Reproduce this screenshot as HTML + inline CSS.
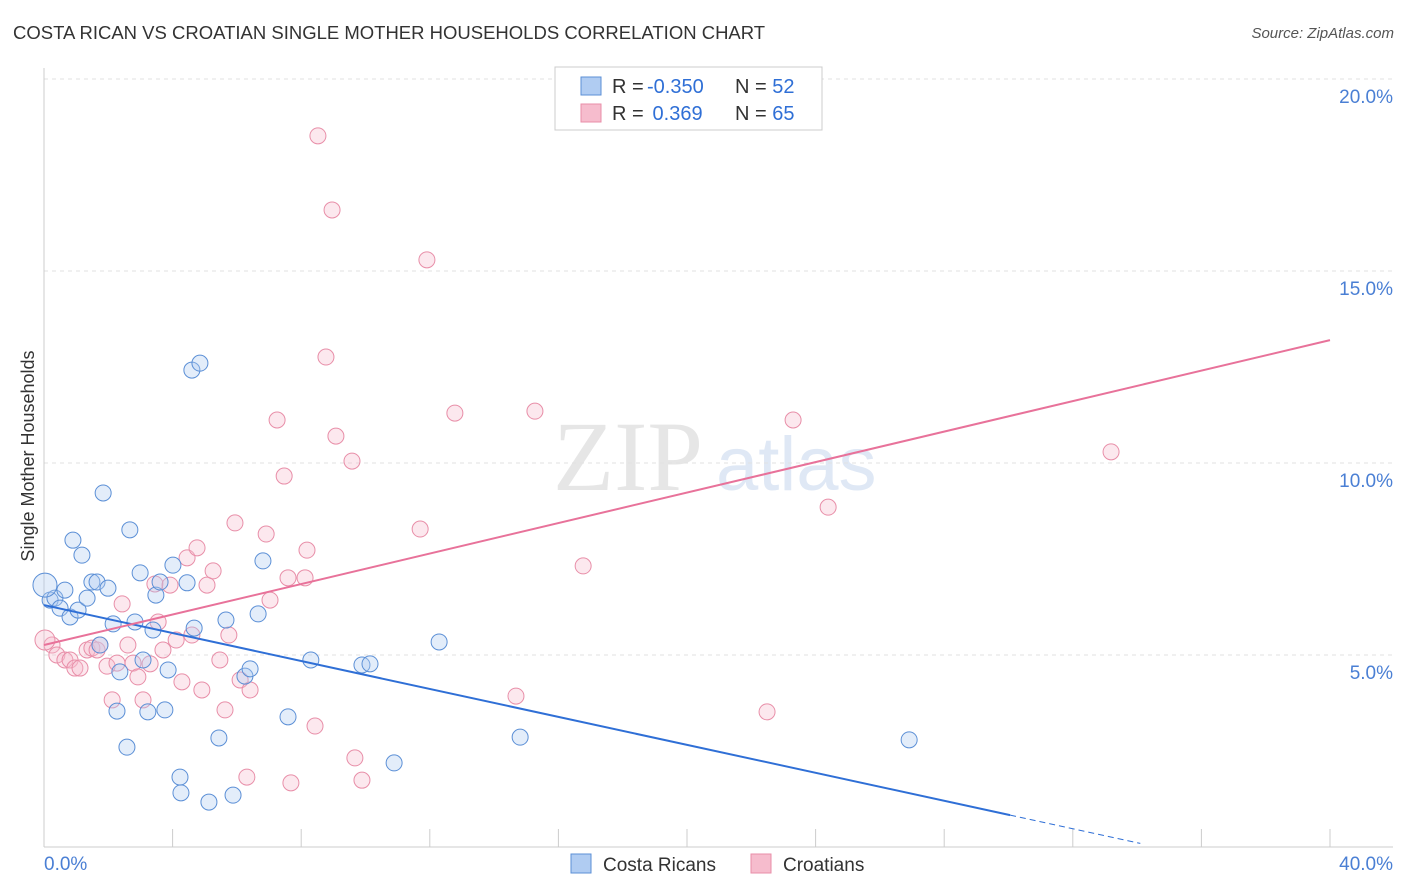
<!DOCTYPE html>
<html><head><meta charset="utf-8">
<style>
body{margin:0;background:#fff;font-family:"Liberation Sans",sans-serif;}
#wrap{position:relative;width:1406px;height:892px;overflow:hidden;}
.t{position:absolute;white-space:nowrap;}
</style></head>
<body>
<div id="wrap">
<div class="t" style="left:13px;top:22px;font-size:18.5px;letter-spacing:0px;color:#333;">COSTA RICAN VS CROATIAN SINGLE MOTHER HOUSEHOLDS CORRELATION CHART</div>
<div class="t" style="right:12px;top:25px;font-size:15px;color:#555;font-style:italic;">Source: ZipAtlas.com</div>
<svg id="svg" width="1406" height="892" style="position:absolute;left:0;top:0"></svg>
</div>
<script>
const xTickVals=[0,4,8,12,16,20,24,28,32,36,40];
const yGridVals=[5,10,15,20];
const yTickLabels=["5.0%","10.0%","15.0%","20.0%"];
const blueX=[0.19,0.34,0.50,0.65,0.81,0.90,1.06,1.18,1.34,1.49,1.65,1.74,1.84,1.99,2.15,2.27,2.36,2.58,2.67,2.83,2.99,3.08,3.23,3.39,3.48,3.61,3.76,3.86,4.01,4.23,4.26,4.45,4.60,4.67,4.85,5.13,5.44,5.66,5.88,6.25,6.41,6.66,6.81,7.59,8.30,9.89,10.14,10.89,12.29,14.81,26.91];
const blueY=[6.43,6.48,6.22,6.69,5.99,7.99,6.17,7.60,6.48,6.90,6.90,5.26,9.22,6.74,5.81,3.54,4.56,2.60,8.26,5.86,7.14,4.87,3.52,5.65,6.56,6.90,3.57,4.61,7.34,1.82,1.41,6.88,12.42,5.70,12.60,1.17,2.84,5.91,1.35,4.45,4.64,6.07,7.45,3.39,4.87,4.74,4.77,2.19,5.34,2.86,2.79];
const pinkX=[0.25,0.40,0.65,0.81,0.96,1.12,1.34,1.49,1.65,1.74,1.96,2.12,2.27,2.43,2.61,2.77,2.92,3.08,3.30,3.45,3.55,3.70,3.92,4.11,4.29,4.45,4.60,4.76,4.91,5.07,5.26,5.47,5.63,5.75,5.94,6.10,6.31,6.41,6.91,7.03,7.25,7.47,7.59,7.68,8.12,8.18,8.43,8.52,8.77,8.96,9.08,9.58,9.67,9.89,11.70,11.91,12.78,14.68,15.27,16.77,22.49,23.30,24.39,33.19];
const pinkY=[5.26,5.00,4.87,4.87,4.66,4.66,5.13,5.18,5.13,5.26,4.71,3.83,4.79,6.33,5.26,4.79,4.43,3.83,4.77,6.85,5.86,5.13,6.82,5.39,4.30,7.53,5.52,7.79,4.09,6.82,7.19,4.87,3.57,5.52,8.44,4.35,1.82,4.09,8.15,6.43,11.12,9.66,7.01,1.67,7.01,7.73,3.15,18.52,12.76,16.59,10.70,10.05,2.32,1.74,8.28,15.29,11.30,3.93,11.35,7.32,3.52,11.12,8.85,10.29];
const blueTrend=[6.30,-0.182];
const pinkTrend=[5.26,0.1985];
const X=v=>44+v*32.15, Y=v=>847-v*38.4;
const svg=document.getElementById('svg');const NS='http://www.w3.org/2000/svg';
function mk(tag,at,parent){const e=document.createElementNS(NS,tag);for(const k in at)e.setAttribute(k,at[k]);(parent||svg).appendChild(e);return e;}
let wm=mk('text',{x:553,y:490,'font-size':100,'font-family':'Liberation Serif,serif',fill:'#e6e6e6'});wm.textContent='ZIP';


let wm2=mk('text',{x:716,y:490,'font-size':76,'font-family':'Liberation Sans,sans-serif',fill:'#dfe8f5'});wm2.textContent='atlas';


yGridVals.forEach((v,i)=>{
 const l=mk('line',{x1:44,x2:1393,y1:Y(v),y2:Y(v),stroke:'#e2e2e2','stroke-dasharray':'4,4'});
 
 
 const t=mk('text',{x:1393,y:Y(v)+24,'text-anchor':'end','font-size':19,fill:'#4a7fd4'});t.textContent=yTickLabels[i];
 
 
});
const ax=mk('line',{x1:44,x2:44,y1:68,y2:847,stroke:'#ccc'});


const bx=mk('line',{x1:44,x2:1393,y1:847,y2:847,stroke:'#ccc'});


xTickVals.forEach(v=>{const t=mk('line',{x1:X(v),x2:X(v),y1:829,y2:847,stroke:'#ccc'});
 
 });
let xl=mk('text',{x:44,y:870,'font-size':19,fill:'#4a7fd4'});xl.textContent='0.0%';


let xr=mk('text',{x:1393,y:870,'text-anchor':'end','font-size':19,fill:'#4a7fd4'});xr.textContent='40.0%';


let yt=mk('text',{x:34,y:456,'font-size':18,fill:'#333','text-anchor':'middle',transform:'rotate(-90 34 456)'});yt.textContent='Single Mother Households';


function pts(xs,ys,fill,stroke,name){xs.forEach((x,i)=>{const c=mk('circle',{cx:X(x),cy:Y(ys[i]),r:8,fill:fill,'fill-opacity':0.35,stroke:stroke,'stroke-width':1});
 
 });}
pts(pinkX,pinkY,'#f6bccd','#e88ea8','croatian-point');
pts(blueX,blueY,'#b0ccf2','#5b8fd6','costa-rican-point');
let bb=mk('circle',{cx:X(0.03),cy:Y(6.82),r:12,fill:'#b0ccf2','fill-opacity':0.35,stroke:'#5b8fd6'});


let pb=mk('circle',{cx:X(0.03),cy:Y(5.39),r:10,fill:'#f6bccd','fill-opacity':0.35,stroke:'#e88ea8'});


const bt=v=>blueTrend[0]+blueTrend[1]*v, pt=v=>pinkTrend[0]+pinkTrend[1]*v;
let l1=mk('line',{x1:X(0),y1:Y(bt(0)),x2:X(30.05),y2:Y(bt(30.05)),stroke:'#2f6fd6','stroke-width':2});


let l2=mk('line',{x1:X(30.05),y1:Y(bt(30.05)),x2:X(34.1),y2:Y(bt(34.1)),stroke:'#2f6fd6','stroke-width':1,'stroke-dasharray':'6,4'});


let l3=mk('line',{x1:X(0),y1:Y(pt(0)),x2:X(40),y2:Y(pt(40)),stroke:'#e8729a','stroke-width':2});


let lg=mk('rect',{x:555,y:67,width:267,height:63,fill:'#fff',stroke:'#ccc'});


[[77,'#b0ccf2','#5b8fd6','-0.350','52'],[104,'#f6bccd','#e88ea8',' 0.369','65']].forEach((r,i)=>{
 const s=mk('rect',{x:581,y:r[0],width:20,height:18,fill:r[1],stroke:r[2]});
 
 
 const t=mk('text',{x:612,y:r[0]+16,'font-size':20,fill:'#333'});
 t.innerHTML='R = <tspan fill="#2f6fd6" x="647">'+(i?'&#160;0.369':'-0.350')+'</tspan><tspan x="735" fill="#333">N = </tspan><tspan fill="#2f6fd6">'+r[4]+'</tspan>';
 
 
});
[[571,'#b0ccf2','#5b8fd6','Costa Ricans'],[751,'#f6bccd','#e88ea8','Croatians']].forEach(r=>{
 const s=mk('rect',{x:r[0],y:854,width:20,height:19,fill:r[1],stroke:r[2]});
 
 
 const t=mk('text',{x:r[0]+32,y:871,'font-size':19,fill:'#333'});t.textContent=r[3];
 
 
});
</script>
</body></html>
